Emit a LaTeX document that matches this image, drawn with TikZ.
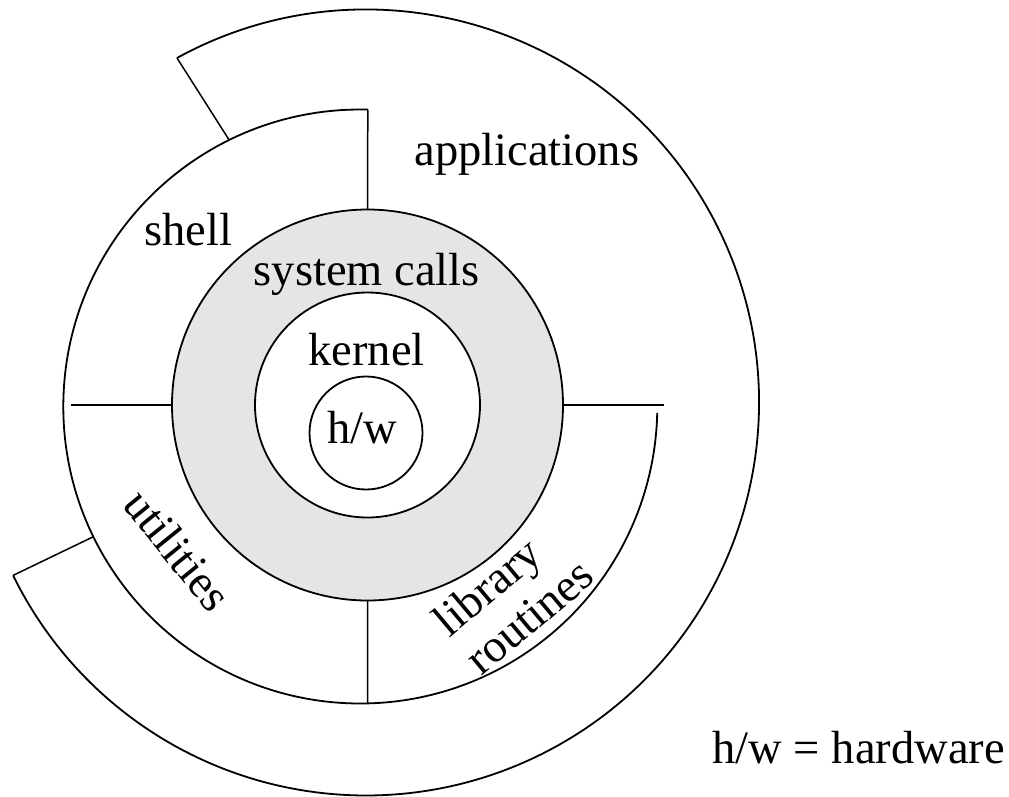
\documentclass[tikz,border=0pt]{standalone}
\usepackage{fontspec}
\setmainfont{Liberation Serif}
\begin{document}
\begin{tikzpicture}[x=1pt,y=1pt,
  ring/.style={draw=black,line width=1.8pt},
  divider/.style={draw=black,line width=1.5pt},
  disc/.style={circle,draw=black,line width=1.8pt,inner sep=0pt,outer sep=0pt},
  lbl/.style={font=\fontsize{46.5}{50}\selectfont,inner sep=0pt},
]
\useasboundingbox (0,0) rectangle (1009,-796);

% centres of the rings
\coordinate (oc) at (366,-402.5);
\coordinate (sc) at (360.3,-406.5);
\coordinate (kc) at (367.5,-405);
\coordinate (hc) at (366,-433);

% outer ring: applications
\draw[ring] ([shift={(118.75:393)}]oc) coordinate (appA)
  arc[start angle=118.75,end angle=-153.9,radius=393] coordinate (appB);

% middle ring: shell, utilities, library routines
\draw[ring] ([shift={(88.55:297)}]sc) coordinate (shTop)
  arc[start angle=88.55,end angle=358.75,radius=297];
\coordinate (shA) at ([shift={(116.2:297)}]sc);
\coordinate (shB) at ([shift={(206:297)}]sc);
\coordinate (shBot) at ([shift={(271.4:297)}]sc);
\coordinate (shL) at (71,-405);
\coordinate (shR) at (664,-405);

% system calls, kernel and hardware discs
\node[disc,fill=gray!20,minimum size=391] (sys) at (kc) {};
\node[disc,fill=white,minimum size=225] (kern) at (kc) {};
\node[disc,minimum size=113] (hw) at (hc) {};

% joins between the outer ring and the middle ring
\draw[divider] (appA) -- (shA);
\draw[divider] (appB) -- (shB);

% dividers of the middle ring
\draw[divider] (shTop) -- (sys.north);
\draw[divider] (shL) -- (sys.west);
\draw[divider] (sys.east) -- (shR);
\draw[divider] (sys.south) -- (shBot);

% labels
\node[lbl,anchor=base] (tApp) at (526.7,-165) {applications};
\node[lbl,anchor=base] (tShell) at (188.3,-245) {shell};
\node[lbl,anchor=base] (tSys) at (366.7,-285) {system calls};
\node[lbl,anchor=base] (tKern) at (366.7,-365) {kernel};
\node[lbl,anchor=base] (tHw) at (362,-443.3) {h/w};
\node[lbl,rotate=-51] (tUtil) at (178,-550) {utilities};
\node[lbl,rotate=40,align=left] (tLib) at (513,-597) {library\\routines};
\node[lbl,anchor=base east] (tKey) at (1005,-763.3) {h/w = hardware};
\end{tikzpicture}
\end{document}
